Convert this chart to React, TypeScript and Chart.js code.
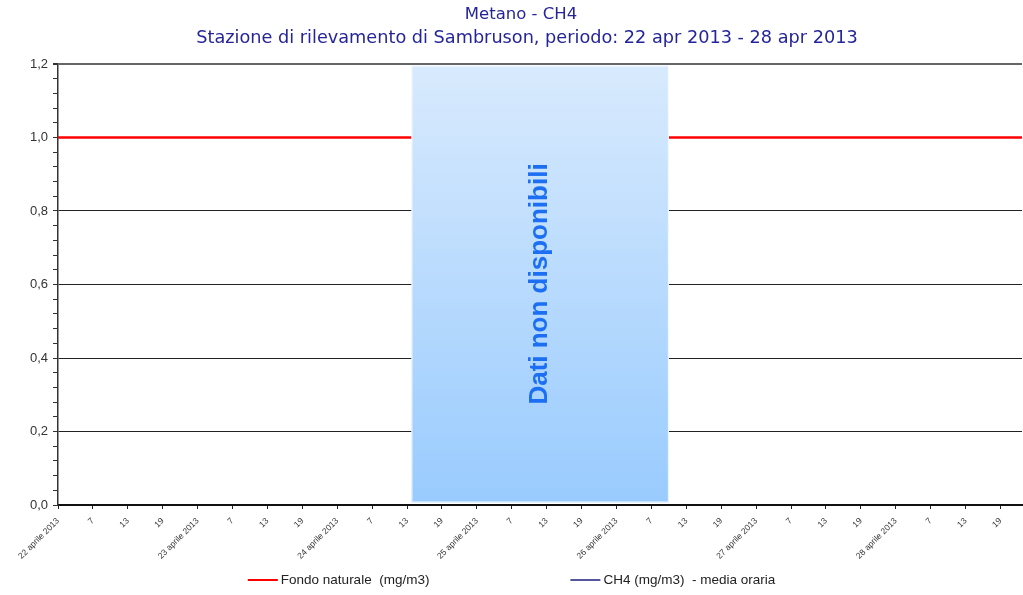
import React, { useEffect, useRef } from 'react';
import { Chart, registerables } from 'chart.js';

Chart.register(...registerables);

// ---- data ----
const titleLines = [
  'Metano - CH4',
  'Stazione di rilevamento di Sambruson, periodo: 22 apr 2013 - 28 apr 2013',
];
const dayLabels = [
  '22 aprile 2013',
  '23 aprile 2013',
  '24 aprile 2013',
  '25 aprile 2013',
  '26 aprile 2013',
  '27 aprile 2013',
  '28 aprile 2013',
];
const hourLabels = ['7', '13', '19'];
const xMaxHour = 165.7;
const fondoHours = [0, 165.7];
const fondoValues = [1.0, 1.0];
const ch4Hours: number[] = [];
const ch4Values: number[] = [];
const gapStartHour = 60.75;
const gapEndHour = 105;
const gapText = 'Dati non disponibili';
const seriesLabels = ['Fondo naturale  (mg/m3)', 'CH4 (mg/m3)  - media oraria'];
const yMin = 0;
const yMax = 1.2;

function xTickLabel(v: number): string {
  const day = Math.floor(v / 24);
  const within = Math.round((v % 24) / 6);
  if (within === 0) return dayLabels[day] ?? '';
  return hourLabels[within - 1] ?? '';
}

const isMajorY = (v: number) => Math.abs(v * 5 - Math.round(v * 5)) < 1e-6;

const titlePlugin = {
  id: 'customTitle',
  afterDraw(chart: any) {
    const { ctx } = chart;
    ctx.save();
    ctx.fillStyle = '#25259a';
    ctx.textAlign = 'center';
    ctx.textBaseline = 'middle';
    ctx.font = '16.5px "DejaVu Sans", sans-serif';
    ctx.fillText(titleLines[0], 521, 15);
    ctx.font = '17.7px "DejaVu Sans", sans-serif';
    ctx.fillText(titleLines[1], 527, 38);
    ctx.restore();
  },
};

const gapPlugin = {
  id: 'gapBox',
  afterDatasetsDraw(chart: any) {
    const { ctx, scales } = chart;
    const x = scales.x;
    const y = scales.y;
    const x0 = x.getPixelForValue(gapStartHour);
    const x1 = x.getPixelForValue(gapEndHour);
    const y0 = y.getPixelForValue(yMax) + 1.5;
    const y1 = y.getPixelForValue(yMin) - 2.5;
    ctx.save();
    const g = ctx.createLinearGradient(0, y0, 0, y1);
    g.addColorStop(0, '#d8eafd');
    g.addColorStop(1, '#99cbfe');
    ctx.fillStyle = g;
    ctx.fillRect(x0, y0, x1 - x0, y1 - y0);
    ctx.strokeStyle = 'rgba(255,255,255,0.9)';
    ctx.lineWidth = 1;
    ctx.strokeRect(x0 + 0.5, y0 + 0.5, x1 - x0 - 1, y1 - y0 - 1);
    ctx.translate((x0 + x1) / 2, (y0 + y1) / 2);
    ctx.rotate(-Math.PI / 2);
    ctx.fillStyle = '#1c6ff2';
    ctx.font = 'bold 26px "Liberation Sans", Arial, sans-serif';
    ctx.textAlign = 'center';
    ctx.textBaseline = 'middle';
    ctx.fillText(gapText, 0, 0);
    ctx.restore();
  },
};

const legendPlugin = {
  id: 'customLegend',
  afterDraw(chart: any) {
    const { ctx } = chart;
    const ds = chart.data.datasets;
    ctx.save();
    ctx.font = '13.5px "Liberation Sans", Arial, sans-serif';
    const lineW = 30;
    const gapTxt = 3;
    const gapItems = 141;
    const widths = ds.map((d: any) => lineW + gapTxt + ctx.measureText(d.label).width);
    const total = widths.reduce((a: number, b: number) => a + b, 0) + gapItems * (ds.length - 1);
    let cx = chart.width / 2 - total / 2;
    const cy = 580;
    ds.forEach((d: any, i: number) => {
      ctx.strokeStyle = d.borderColor;
      ctx.lineWidth = 2;
      ctx.beginPath();
      ctx.moveTo(cx, cy);
      ctx.lineTo(cx + lineW, cy);
      ctx.stroke();
      ctx.fillStyle = '#222';
      ctx.textAlign = 'left';
      ctx.textBaseline = 'middle';
      ctx.fillText(d.label, cx + lineW + gapTxt, cy);
      cx += widths[i] + gapItems;
    });
    ctx.restore();
  },
};

export default function App() {
  const ref = useRef<HTMLCanvasElement | null>(null);
  useEffect(() => {
    document.body.style.margin = '0';
    const canvas = ref.current;
    if (!canvas) return;
    const chart = new Chart(canvas, {
      type: 'line',
      data: {
        datasets: [
          {
            label: seriesLabels[0],
            data: fondoHours.map((h, i) => ({ x: h, y: fondoValues[i] })),
            borderColor: '#ff0000',
            backgroundColor: '#ff0000',
            borderWidth: 2.5,
            pointRadius: 0,
          },
          {
            label: seriesLabels[1],
            data: ch4Hours.map((h, i) => ({ x: h, y: ch4Values[i] })),
            borderColor: '#56569f',
            backgroundColor: '#56569f',
            borderWidth: 1.5,
            pointRadius: 0,
          },
        ],
      },
      options: {
        responsive: false,
        animation: false,
        devicePixelRatio: 1,
        layout: { padding: { left: 0, right: 1, top: 64, bottom: 30 } },
        plugins: {
          legend: { display: false },
          tooltip: { enabled: false },
          title: { display: false },
        },
        scales: {
          x: {
            type: 'linear',
            min: 0,
            max: xMaxHour,
            afterBuildTicks: (scale: any) => {
              scale.ticks = scale.ticks.filter((t: any) => Math.abs(t.value % 6) < 1e-6);
            },
            afterFit: (scale: any) => {
              scale.height = 60;
            },
            ticks: {
              stepSize: 6,
              autoSkip: false,
              maxTicksLimit: 100,
              minRotation: 45,
              maxRotation: 45,
              padding: 7,
              color: '#333',
              font: { family: '"Liberation Sans", Arial, sans-serif', size: 8.5 },
              callback: (v: any) => xTickLabel(Number(v)),
            },
            grid: {
              drawOnChartArea: false,
              drawTicks: true,
              tickLength: 4,
              tickColor: '#222',
            },
            border: { color: '#111', width: 2 },
          },
          y: {
            type: 'linear',
            min: yMin,
            max: yMax,
            afterFit: (scale: any) => {
              scale.width = 58;
            },
            ticks: {
              stepSize: 0.04,
              autoSkip: false,
              maxTicksLimit: 100,
              padding: 5,
              color: '#333',
              font: { family: '"Liberation Sans", Arial, sans-serif', size: 13 },
              callback: (v: any) => (isMajorY(Number(v)) ? Number(v).toFixed(1).replace('.', ',') : ''),
            },
            grid: {
              drawOnChartArea: true,
              drawTicks: true,
              tickLength: 5,
              tickColor: '#333',
              color: (c: any) => {
                const v = c.tick?.value ?? 0;
                if (!isMajorY(v)) return 'rgba(0,0,0,0)';
                if (Math.abs(v - 1.2) < 1e-6) return '#666';
                if (Math.abs(v - 1.0) < 1e-6 || Math.abs(v) < 1e-6) return 'rgba(0,0,0,0)';
                return '#222';
              },
              lineWidth: (c: any) => {
                const v = c.tick?.value ?? 0;
                return Math.abs(v - 1.2) < 1e-6 ? 2 : 1;
              },
            },
            border: { color: '#333', width: 1.5 },
          },
        },
      },
      plugins: [titlePlugin, gapPlugin, legendPlugin],
    } as any);
    return () => chart.destroy();
  }, []);
  return (
    <div style={{ width: 1023, height: 595, background: '#fff' }}>
      <canvas ref={ref} width={1023} height={595} style={{ width: 1023, height: 595, display: 'block' }} />
    </div>
  );
}
